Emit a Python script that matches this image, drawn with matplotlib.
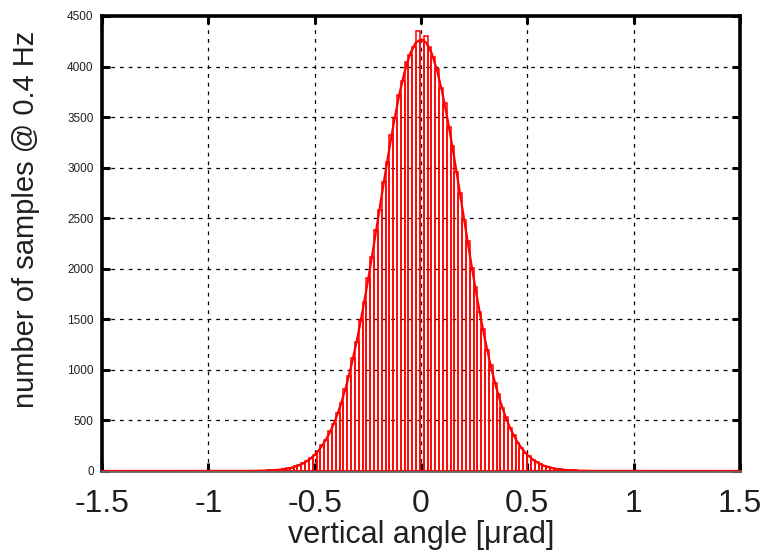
import numpy as np
import matplotlib
matplotlib.use('Agg')
import matplotlib.pyplot as plt

plt.rcParams['font.family'] = ['Liberation Sans', 'DejaVu Sans']

# histogram: first bin centre, bin width, counts
bin_start = -0.806
bin_width = 0.018
counts = [
    1, 1, 2, 3, 3, 6, 7, 9, 14, 17, 26, 31, 46, 55, 78, 95, 128, 162, 196, 258,
    305, 392, 461, 575, 672, 815, 940, 1122, 1276, 1490, 1668, 1910, 2115, 2380, 2585,
    2860, 3060, 3320, 3490, 3720, 3860, 4040, 4110, 4190, 4350,
    4265, 4300, 4190, 4095, 3975, 3790, 3640, 3405, 3215, 2960, 2750, 2480, 2270, 2010,
    1815, 1575, 1400, 1195, 1050, 875, 760, 620, 530, 425, 358, 280, 232, 178, 147, 110,
    90, 65, 53, 38, 30, 21, 17, 12, 9, 6, 5, 4, 3, 2, 1,
]

# fitted curve
fit_x = [-1.5] + [round(-0.8 + 0.025 * i, 3) for i in range(65)] + [1.5]
fit_y = [0,
         1, 2, 3, 4, 7, 11, 16, 25, 38, 55, 80, 114, 159, 220, 298, 397, 521, 672, 853,
         1065, 1308, 1580, 1877, 2194, 2524, 2854, 3176, 3477, 3744, 3966, 4132, 4235,
         4270,
         4235, 4132, 3966, 3744, 3477, 3176, 2854, 2524, 2194, 1877, 1580, 1308, 1065,
         853, 672, 521, 397, 298, 220, 159, 114, 80, 55, 38, 25, 16, 11, 7, 4, 3, 2, 1,
         0]

xticks = [-1.5, -1, -0.5, 0, 0.5, 1, 1.5]
xtick_labels = ['-1.5', '-1', '-0.5', '0', '0.5', '1', '1.5']
yticks = list(range(0, 4501, 500))

centres = bin_start + bin_width * np.arange(len(counts))

fig = plt.figure(figsize=(7.77, 5.53), dpi=100)
ax = fig.add_axes([0.1313, 0.1483, 0.8211, 0.8228])

ax.bar(centres, counts, width=bin_width, facecolor='none', edgecolor='#ff0000',
       linewidth=1.1, zorder=3)
ax.plot(fit_x, fit_y, color='#ff0000', linewidth=1.6, zorder=4)

ax.set_xlim(-1.5, 1.5)
ax.set_ylim(0, 4500)
ax.set_xticks(xticks)
ax.set_xticklabels(xtick_labels, fontsize=23, color='#231f20')
ax.set_yticks(yticks)
ax.set_yticklabels([str(v) for v in yticks], fontsize=8.5, color='#231f20')

ax.grid(True, color='black', linestyle=(0, (3, 4)), linewidth=0.9, zorder=1)
ax.tick_params(direction='in', length=6, width=2.2, top=True, right=True, pad=6)
ax.tick_params(axis='x', pad=13)

for s in ['left', 'top', 'right']:
    ax.spines[s].set_linewidth(2.6)
    ax.spines[s].set_color('black')
ax.spines['bottom'].set_linewidth(2.0)
ax.spines['bottom'].set_color('#666666')

ax.set_xlabel('vertical angle [\u03bcrad]', fontsize=22, color='#231f20', labelpad=1)
ax.set_ylabel('number of samples @ 0.4 Hz', fontsize=21, color='#231f20')
ax.yaxis.set_label_coords(-0.097, 0.552)

fig.savefig('out.png', dpi=100)
